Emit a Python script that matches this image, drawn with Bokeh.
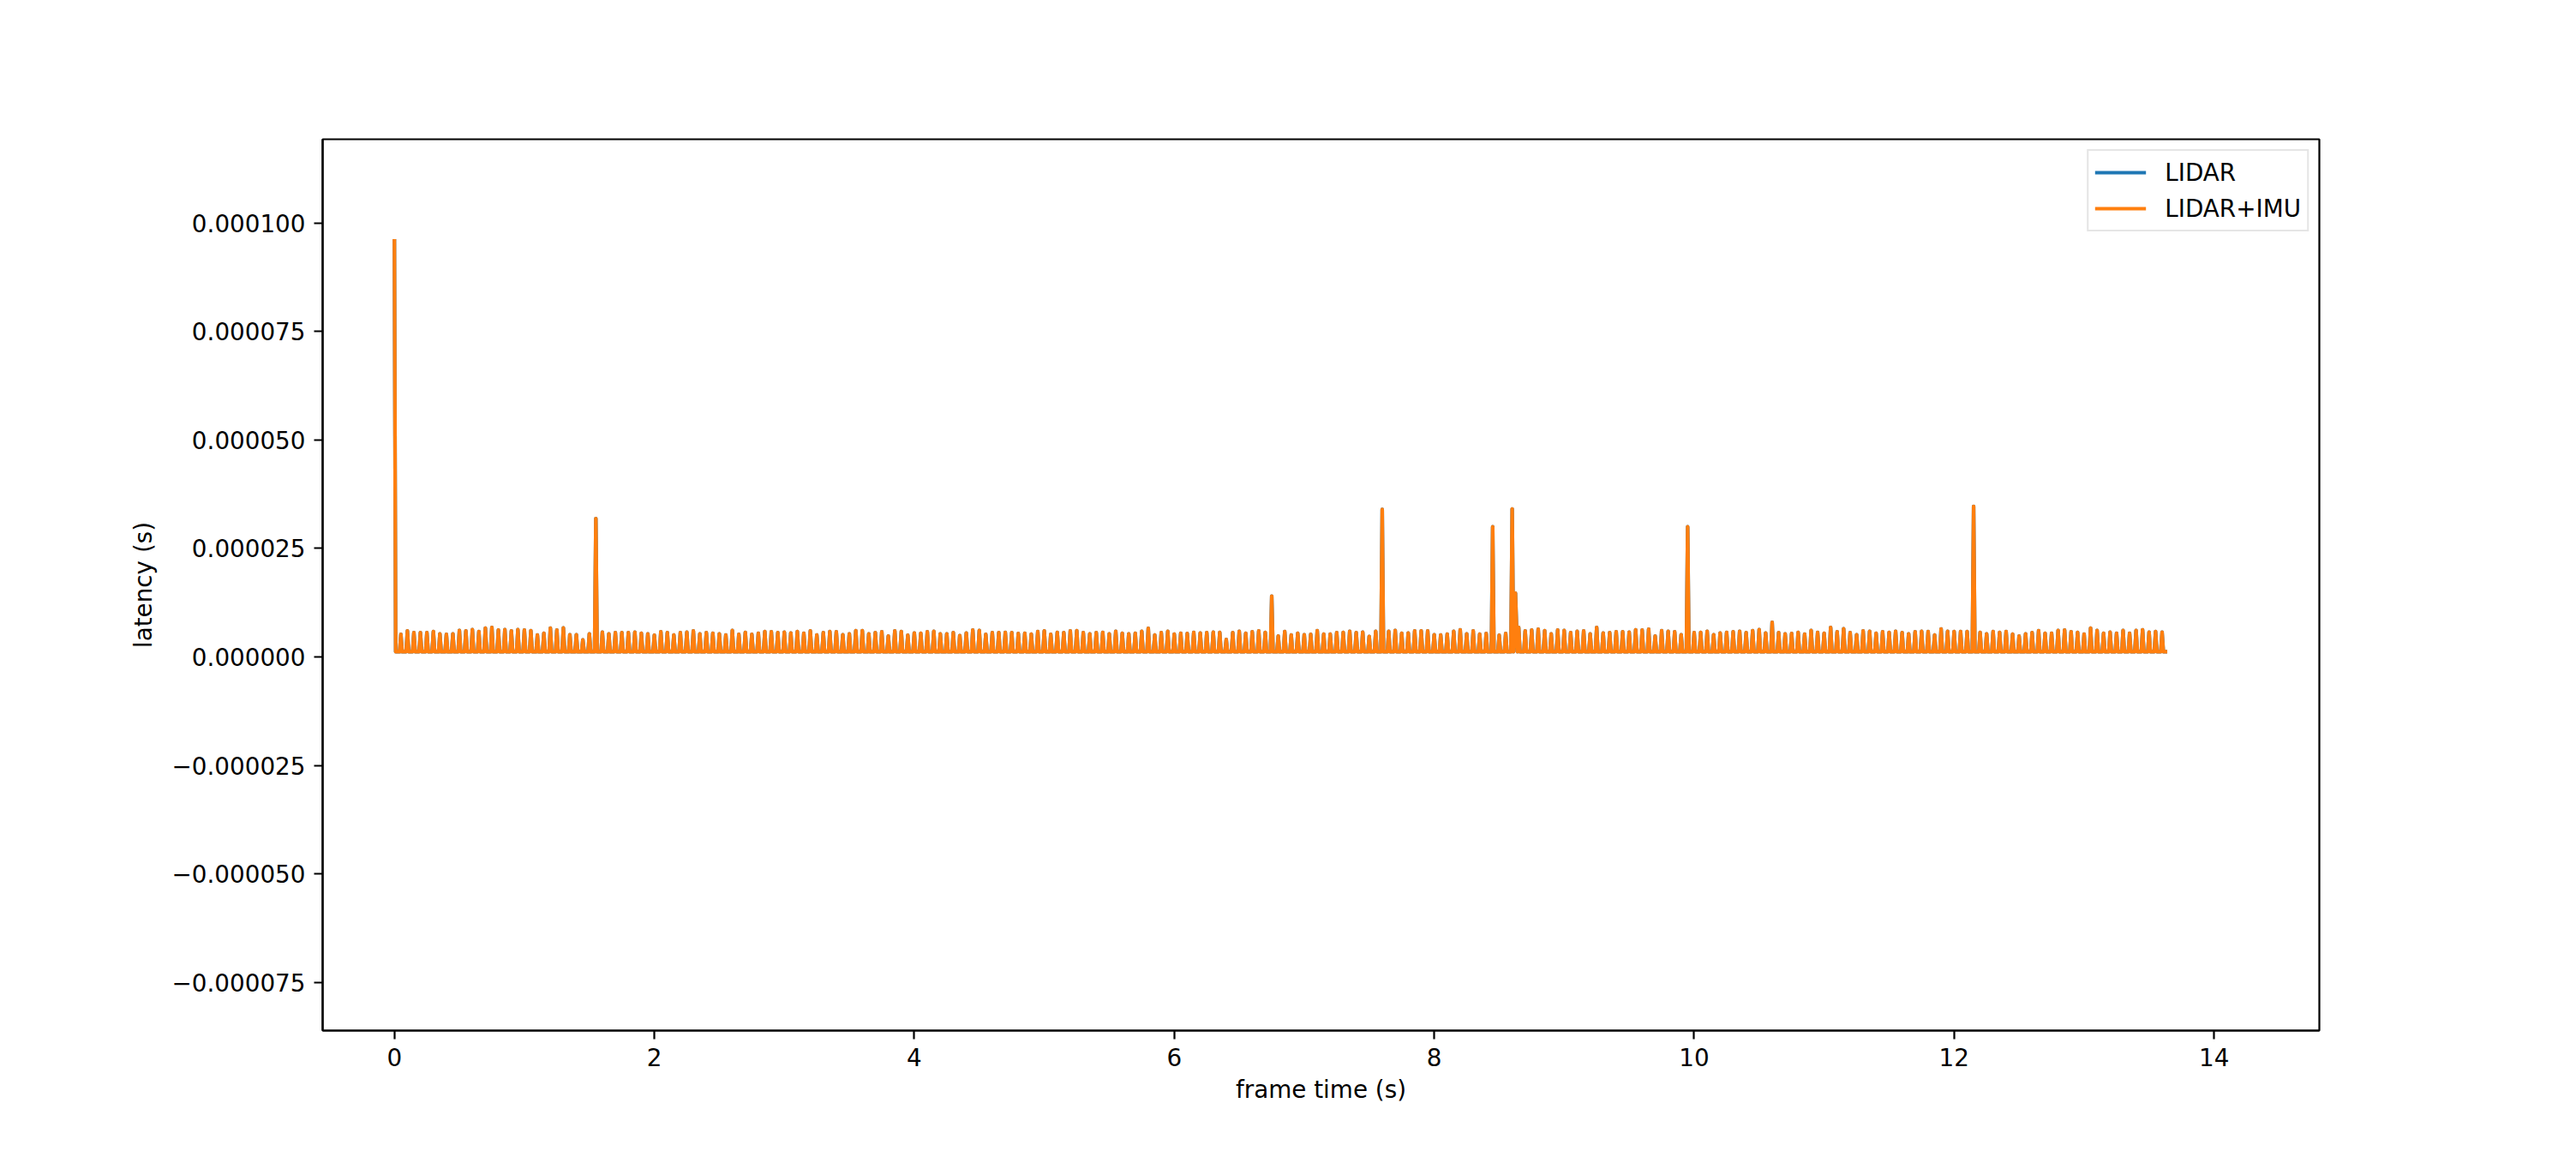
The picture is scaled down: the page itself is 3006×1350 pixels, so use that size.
from bokeh.plotting import figure
from bokeh.models import Range1d, FixedTicker, CustomJSTickFormatter, Legend, LegendItem
from bokeh.embed import file_html
from bokeh.resources import INLINE

# ---------------- data (latency in microseconds) ----------------
frame_period = 0.05          # s between LIDAR frames
peak_us = [
    96.3, 5.21, 6.00, 5.60, 5.60, 5.60, 5.86, 5.34, 5.21, 5.34,
    6.13, 6.00, 6.33, 5.86, 6.65, 6.79, 6.19, 6.33, 6.00, 6.33,
    6.19, 6.06, 5.07, 5.47, 6.65, 6.19, 6.72, 5.14, 5.14, 3.96,
    5.34, 31.9, 5.73, 5.34, 5.60, 5.60, 5.60, 5.73, 5.47, 5.34,
    5.01, 5.80, 5.60, 5.07, 5.60, 5.73, 6.00, 5.34, 5.60, 5.47,
    5.34, 5.07, 6.13, 5.21, 5.67, 5.21, 5.47, 5.86, 5.80, 5.60,
    5.73, 5.54, 5.86, 5.47, 6.00, 5.07, 5.60, 5.86, 5.80, 5.14,
    5.34, 6.06, 6.06, 5.34, 5.60, 5.80, 4.81, 6.00, 5.86, 5.01,
    5.54, 5.47, 5.80, 5.93, 5.34, 5.34, 5.60, 4.94, 5.54, 6.19,
    6.13, 5.21, 5.60, 5.60, 5.67, 5.60, 5.40, 5.47, 5.27, 5.86,
    6.00, 5.21, 5.67, 5.60, 6.00, 6.06, 5.60, 5.34, 5.60, 5.67,
    5.34, 5.93, 5.47, 5.34, 5.47, 5.93, 6.59, 5.07, 5.60, 5.93,
    5.27, 5.47, 5.40, 5.67, 5.54, 5.60, 5.73, 5.67, 4.02, 5.60,
    5.93, 5.47, 5.80, 6.00, 5.67, 14.0, 4.81, 5.86, 5.07, 5.47,
    5.14, 5.21, 6.06, 5.27, 5.27, 5.60, 5.67, 5.93, 5.60, 5.73,
    4.75, 5.93, 34.0, 5.93, 6.13, 5.47, 5.54, 6.00, 6.00, 6.00,
    5.14, 5.07, 5.27, 5.93, 6.26, 5.34, 6.00, 5.27, 5.40, 30.0,
    5.01, 5.40, 34.1, 6.79, 6.00, 6.19, 6.39, 6.06, 5.34, 6.19,
    6.13, 5.60, 5.93, 6.00, 5.34, 6.79, 5.54, 5.60, 5.80, 5.80,
    5.73, 6.26, 6.19, 6.39, 4.81, 6.06, 5.93, 5.80, 5.14, 30.0,
    5.60, 5.67, 5.93, 5.14, 5.54, 5.67, 5.80, 5.93, 5.60, 6.06,
    6.33, 5.54, 7.97, 5.60, 5.34, 5.40, 5.67, 5.27, 6.13, 5.67,
    5.47, 6.79, 5.80, 6.52, 5.60, 5.14, 6.00, 5.93, 5.47, 5.80,
    5.67, 5.93, 5.60, 5.34, 5.80, 5.93, 5.86, 5.07, 6.46, 5.93,
    5.86, 5.86, 5.86, 34.7, 5.67, 5.34, 5.86, 5.67, 5.86, 5.27,
    4.81, 5.34, 5.60, 6.06, 5.47, 5.47, 6.13, 6.19, 5.80, 5.67,
    5.27, 6.65, 6.12, 5.47, 5.73, 5.47, 6.12, 5.47, 6.12, 6.25,
    5.73, 5.86, 5.73,
]
trough_us = 1.2              # latency between frames
extra_t = [8.625]            # additional sample between frames
extra_us = [14.7]

x_ticks = [0, 2, 4, 6, 8, 10, 12, 14]
y_ticks = [-7.5e-5, -5e-5, -2.5e-5, 0.0, 2.5e-5, 5e-5, 7.5e-5, 1e-4]

# build the line samples
pts = []
for k, v in enumerate(peak_us):
    t = k * frame_period
    pts += [(t, v), (t + 0.01, trough_us), (t + 0.04, trough_us)]
pts += list(zip(extra_t, extra_us))
pts.sort()
ts = [p[0] for p in pts]
ys = [p[1] * 1e-6 for p in pts]

FONT = "DejaVu Sans"
FS = "27.8px"

p = figure(output_backend="svg", toolbar_location=None,
           frame_width=2330, frame_height=1040,
           min_border_left=376, min_border_right=290,
           min_border_top=162, min_border_bottom=140,
           x_range=Range1d(-0.552, 14.81), y_range=Range1d(-86.1e-6, 119.3e-6),
           background_fill_color="white", border_fill_color="white")

p.grid.visible = False
p.outline_line_color = "black"
p.outline_line_width = 2.2

r_lidar = p.line(ts, ys, line_color="#1f77b4", line_width=4.2, line_join="round")
r_imu = p.line(ts, ys, line_color="#ff7f0e", line_width=4.2, line_join="round")

p.xaxis.ticker = FixedTicker(ticks=x_ticks)
p.yaxis.ticker = FixedTicker(ticks=y_ticks)
p.yaxis.formatter = CustomJSTickFormatter(
    code="return (tick < 0 ? '\\u2212' : '') + Math.abs(tick).toFixed(6);")

for ax in (p.xaxis[0], p.yaxis[0]):
    ax.axis_line_width = 2.2
    ax.axis_line_color = "black"
    ax.major_tick_line_width = 2.2
    ax.major_tick_in = 0
    ax.major_tick_out = 10
    ax.minor_tick_line_color = None
    ax.major_label_standoff = 10
    ax.major_label_text_font = FONT
    ax.major_label_text_font_size = FS
    ax.major_label_text_color = "black"
    ax.axis_label_text_font = FONT
    ax.axis_label_text_font_size = FS
    ax.axis_label_text_font_style = "normal"
    ax.axis_label_text_color = "black"

p.xaxis.axis_label = "frame time (s)"
p.yaxis.axis_label = "latency (s)"
p.xaxis.axis_label_standoff = 8
p.yaxis.axis_label_standoff = 14

legend = Legend(items=[LegendItem(label="LIDAR", renderers=[r_lidar]),
                       LegendItem(label="LIDAR+IMU", renderers=[r_imu])],
                location="top_right", margin=12, padding=7, spacing=6,
                glyph_width=60, glyph_height=36, label_height=36,
                label_standoff=22,
                label_text_font=FONT, label_text_font_size=FS,
                label_text_color="black",
                border_line_color="#cccccc", border_line_width=2,
                background_fill_alpha=0.8)
p.add_layout(legend)

open("out.html", "w").write(file_html(p, INLINE))
